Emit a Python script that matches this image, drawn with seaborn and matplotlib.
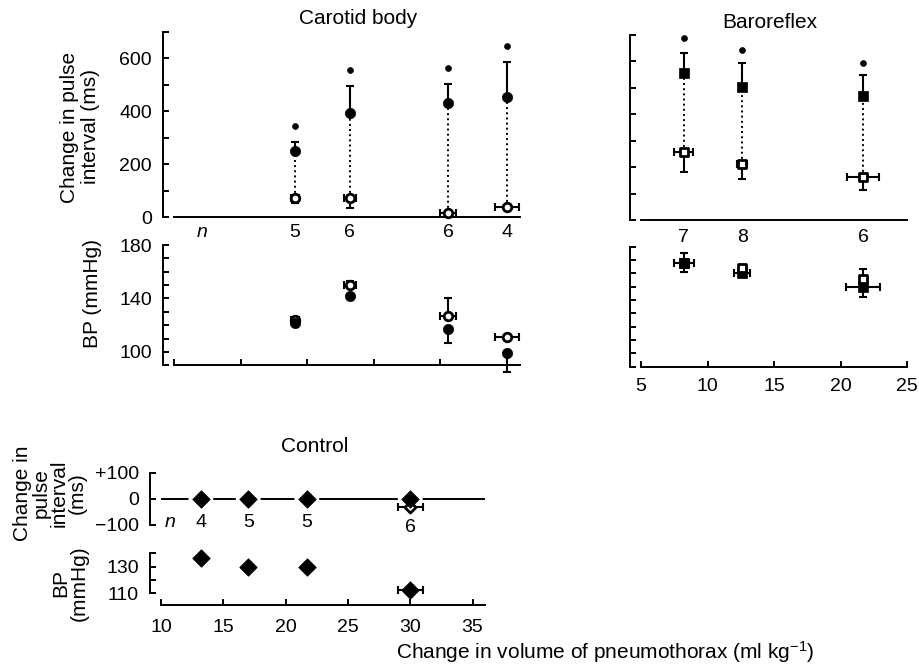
import matplotlib
matplotlib.use('Agg')
import matplotlib.pyplot as plt
import seaborn as sns

# ---- carotid body ----
cb_vol = [14.1, 18.2, 25.6, 30.0]
cb_vol_se = [0.3, 0.45, 0.6, 0.9]
cb_n = ['5', '6', '6', '4']
cb_pi_filled = [250, 393, 431, 452]
cb_pi_filled_se = [33, 101, 71, 134]
cb_pi_open = [72, 72, 16, 39]
cb_pi_open_se = [19, 37, 8, 10]
cb_sig = [343, 555, 562, 646]
cb_bp_filled = [122, 142, 117, 99]
cb_bp_filled_se = [2, 2, 10, 14]
cb_bp_open = [124, 150, 127, 111]
cb_bp_open_se = [2, 3, 13, 0]

# ---- baroreflex ----
br_vol = [8.2, 12.6, 21.7]
br_vol_se = [0.7, 0.4, 1.2]
br_n = ['7', '8', '6']
br_pi_filled = [553, 503, 468]
br_pi_filled_se = [76, 88, 79]
br_pi_open = [255, 211, 163]
br_pi_open_se = [75, 56, 50]
br_sig = [688, 641, 594]
br_bp_filled = [168, 160, 150]
br_bp_filled_se = [7, 2, 7.5]
br_bp_open = [168, 164, 156]
br_bp_open_se = [7, 1, 7.5]
br_bp_xse = [0.75, 0.6, 1.25]

# ---- control ----
ct_vol = [13.2, 17.0, 21.7, 30.0]
ct_vol_se = [0, 0, 0, 1.0]
ct_n = ['4', '5', '5', '6']
ct_pi_filled = [-3, -3, -3, 0]
ct_pi_open = [-33]
ct_bp = [136.5, 129.5, 130, 112.5]

pi_ticks = [0, 200, 400, 600]
bp_ticks = [100, 140, 180]
ct_pi_ticks = [-100, 0, 100]
ct_pi_labels = ['\u2212100', '0', '+100']
ct_bp_ticks = [110, 130]

sns.set_style('ticks', {'axes.edgecolor': 'black', 'text.color': 'black',
                        'xtick.color': 'black', 'ytick.color': 'black',
                        'axes.labelcolor': 'black'})
plt.rcParams['font.family'] = ['Liberation Sans', 'DejaVu Sans']
plt.rcParams['mathtext.fontset'] = 'custom'
plt.rcParams['mathtext.rm'] = 'Liberation Sans'
plt.rcParams['mathtext.it'] = 'Liberation Sans:italic'

W, H = 919, 670
fig = plt.figure(figsize=(W / 100, H / 100), dpi=100)
TICK_FS = 14
LAB_FS = 15
LW = 1.4


def axes_px(x0, x1, y0, y1):
    return fig.add_axes([x0 / W, 1 - y1 / H, (x1 - x0) / W, (y1 - y0) / H])


def style(ax, bottom_ticks=True, bottom=True):
    for s in ['top', 'right']:
        ax.spines[s].set_visible(False)
    ax.spines['left'].set_position(('outward', 8))
    ax.spines['left'].set_linewidth(LW)
    ax.spines['bottom'].set_linewidth(LW)
    ax.spines['bottom'].set_visible(bottom)
    ax.tick_params(direction='in', length=4, width=LW, labelsize=TICK_FS,
                   color='black', labelcolor='black', pad=8)
    ax.tick_params(which='minor', direction='in', length=4, width=LW)
    if not bottom_ticks:
        ax.tick_params(axis='x', length=0, labelbottom=False)
    ax.set_facecolor('white')


def errs(ax, x, y, up=None, down=None, xse=None, zorder=3):
    yerr = None
    if up is not None or down is not None:
        lo = down if down is not None else [0] * len(y)
        hi = up if up is not None else [0] * len(y)
        yerr = [lo, hi]
    ax.errorbar(x, y, yerr=yerr, xerr=xse, fmt='none', ecolor='black',
                elinewidth=1.5, capsize=3, capthick=1.5, zorder=zorder,
                clip_on=False)


def filled_pts(ax, x, y, marker, s, zorder=5):
    sns.scatterplot(x=x, y=y, ax=ax, marker=marker, s=s, color='black',
                    edgecolor='black', linewidth=0.5, zorder=zorder,
                    clip_on=False, legend=False)


def open_pts(ax, x, y, marker, s, zorder=6):
    sns.scatterplot(x=x, y=y, ax=ax, marker=marker, s=s, color='white',
                    edgecolor='black', linewidth=2.0, zorder=zorder,
                    clip_on=False, legend=False)


def n_labels(ax, x, labels, dy, n_x=None, n_dy=None):
    if n_x is not None:
        ax.annotate('n', xy=(n_x, 0), xytext=(0, -(n_dy or dy)),
                    textcoords='offset pixels', ha='center', va='center',
                    fontsize=TICK_FS, style='italic', annotation_clip=False)
    for xi, lab in zip(x, labels):
        ax.annotate(lab, xy=(xi, 0), xytext=(0, -dy), textcoords='offset pixels',
                    ha='center', va='center', fontsize=TICK_FS,
                    annotation_clip=False)


# ================= Carotid body =================
ax1 = axes_px(174, 520, 31.5, 217)
style(ax1, bottom_ticks=False)
ax1.set_xlim(5, 31)
ax1.set_ylim(0, 700)
ax1.set_yticks(pi_ticks)
ax1.set_yticks([100, 300, 500, 700], minor=True)
ax1.vlines(cb_vol, cb_pi_open, cb_pi_filled, colors='black', linestyles=':',
           linewidth=1.4, zorder=2)
errs(ax1, cb_vol, cb_pi_filled, up=cb_pi_filled_se)
errs(ax1, cb_vol, cb_pi_open, down=cb_pi_open_se, xse=cb_vol_se)
filled_pts(ax1, cb_vol, cb_pi_filled, 'o', 55)
open_pts(ax1, cb_vol, cb_pi_open, 'o', 38)
filled_pts(ax1, cb_vol, cb_sig, 'o', 18)
n_labels(ax1, cb_vol, cb_n, 15, n_x=7.1)

ax2 = axes_px(174, 520, 245, 365.3)
style(ax2)
ax2.set_xlim(5, 31)
ax2.set_ylim(90, 180)
ax2.set_xticks([5, 10, 15, 20, 25, 30])
ax2.set_xticklabels([])
ax2.set_yticks(bp_ticks)
ax2.set_yticks([90, 110, 120, 130, 150, 160, 170], minor=True)
errs(ax2, cb_vol, cb_bp_filled, down=cb_bp_filled_se)
errs(ax2, cb_vol, cb_bp_open, up=cb_bp_open_se, xse=cb_vol_se)
open_pts(ax2, cb_vol, cb_bp_open, 'o', 38, zorder=4)
filled_pts(ax2, cb_vol, cb_bp_filled, 'o', 55, zorder=5)

fig.text(358 / W, 1 - 18 / H, 'Carotid body', ha='center', va='center',
         fontsize=LAB_FS)
fig.text(80 / W, 1 - 127 / H, 'Change in pulse\ninterval (ms)', rotation=90,
         ha='center', va='center', fontsize=LAB_FS, linespacing=1.1)
fig.text(92 / W, 1 - 293 / H, 'BP (mmHg)', rotation=90, ha='center',
         va='center', fontsize=LAB_FS)

# ================= Baroreflex =================
ax3 = axes_px(641, 907, 34.5, 220)
style(ax3, bottom_ticks=False)
ax3.set_xlim(5, 25)
ax3.set_ylim(0, 700)
ax3.set_yticks(range(0, 701, 100))
ax3.set_yticklabels([])
ax3.vlines(br_vol, br_pi_open, br_pi_filled, colors='black', linestyles=':',
           linewidth=1.4, zorder=2)
errs(ax3, br_vol, br_pi_filled, up=br_pi_filled_se)
errs(ax3, br_vol, br_pi_open, down=br_pi_open_se, xse=br_vol_se)
filled_pts(ax3, br_vol, br_pi_filled, 's', 50)
open_pts(ax3, br_vol, br_pi_open, 's', 36)
filled_pts(ax3, br_vol, br_sig, 'o', 18)
n_labels(ax3, br_vol, br_n, 17)

ax4 = axes_px(641, 907, 246.7, 366.7)
style(ax4)
ax4.set_xlim(5, 25)
ax4.set_ylim(90, 180)
ax4.set_xticks([5, 10, 15, 20, 25])
ax4.set_yticks(range(90, 181, 10))
ax4.set_yticklabels([])
errs(ax4, br_vol, br_bp_filled, down=br_bp_filled_se, xse=br_bp_xse)
errs(ax4, br_vol, br_bp_open, up=br_bp_open_se)
open_pts(ax4, br_vol, br_bp_open, 's', 36, zorder=5)
filled_pts(ax4, br_vol[:1], br_bp_filled[:1], 's', 50, zorder=6)
filled_pts(ax4, br_vol[1:], br_bp_filled[1:], 's', 50, zorder=4)

fig.text(770 / W, 1 - 22 / H, 'Baroreflex', ha='center', va='center',
         fontsize=LAB_FS)

# ================= Control =================
ax5 = axes_px(161, 485, 472.7, 524.5)
style(ax5, bottom_ticks=False, bottom=False)
ax5.set_xlim(10, 36)
ax5.set_ylim(-100, 100)
ax5.set_yticks(ct_pi_ticks)
ax5.set_yticklabels(ct_pi_labels)
ax5.axhline(0, color='black', linewidth=LW, zorder=1)
sns.scatterplot(x=ct_vol, y=ct_pi_filled, ax=ax5, marker='o', s=320,
                color='white', edgecolor='none', zorder=2, legend=False)
errs(ax5, ct_vol[-1:], ct_pi_open, xse=ct_vol_se[-1:])
open_pts(ax5, ct_vol[-1:], ct_pi_open, 'D', 32, zorder=4)
filled_pts(ax5, ct_vol, ct_pi_filled, 'D', 80)
for xi, lab in zip(ct_vol, ct_n):
    dy = 29 if xi == ct_vol[-1] else 24
    ax5.annotate(lab, xy=(xi, 0), xytext=(0, -dy), textcoords='offset pixels',
                 ha='center', va='center', fontsize=TICK_FS,
                 annotation_clip=False)
ax5.annotate('n', xy=(10.7, 0), xytext=(0, -24), textcoords='offset pixels',
             ha='center', va='center', fontsize=TICK_FS, style='italic',
             annotation_clip=False)

ax6 = axes_px(161, 485, 553.3, 605.3)
style(ax6)
ax6.set_xlim(10, 36)
ax6.set_ylim(101, 140)
ax6.spines['left'].set_bounds(110, 140)
ax6.set_xticks([10, 15, 20, 25, 30, 35])
ax6.set_yticks(ct_bp_ticks)
ax6.set_yticks([120, 140], minor=True)
ax6.tick_params(axis='x', pad=10)
errs(ax6, ct_vol, ct_bp, xse=ct_vol_se)
filled_pts(ax6, ct_vol, ct_bp, 'D', 80)

fig.text(315 / W, 1 - 447 / H, 'Control', ha='center', va='center',
         fontsize=LAB_FS)
fig.text(50 / W, 1 - 493 / H, 'Change in\npulse\ninterval\n(ms)', rotation=90,
         ha='center', va='center', fontsize=LAB_FS, linespacing=0.95)
fig.text(70 / W, 1 - 583 / H, 'BP\n(mmHg)', rotation=90, ha='center',
         va='center', fontsize=LAB_FS, linespacing=0.95)
fig.text(605 / W, 1 - 652 / H, 'Change in volume of pneumothorax (ml kg$^{-1}$)',
         ha='center', va='center', fontsize=LAB_FS)

fig.savefig('out.png', dpi=100, facecolor='white')
